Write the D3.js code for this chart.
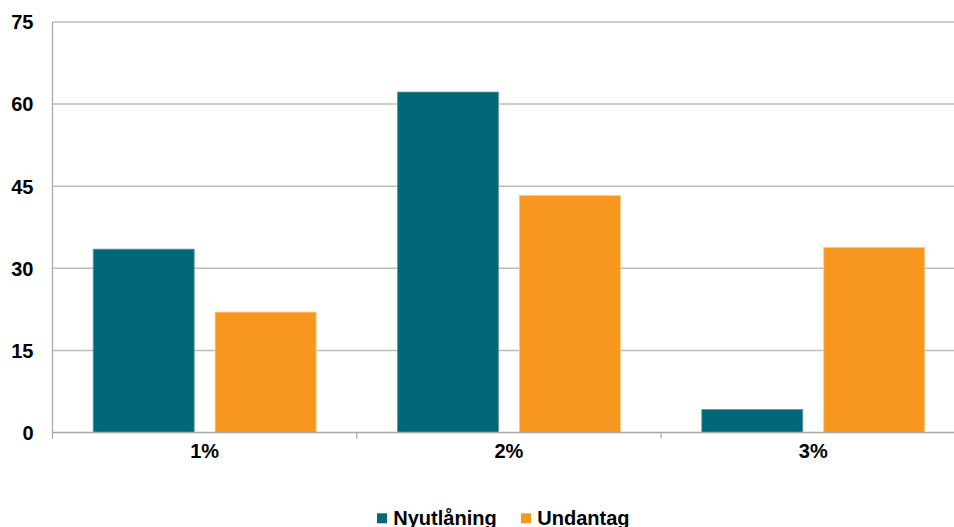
<!DOCTYPE html>
<html>
<head>
<meta charset="utf-8">
<script src="https://cdn.jsdelivr.net/npm/d3@7/dist/d3.min.js"></script>
<style>
  html, body { margin: 0; padding: 0; background: #fff; }
  svg { display: block; }
  text { font-family: "Liberation Sans", Arial, sans-serif; font-weight: bold; fill: #000; }
</style>
</head>
<body>
<svg id="chart" width="954" height="527"></svg>
<script>
// Categories, series and tick values
const categories = ["1%", "2%", "3%"];
const seriesNames = ["Nyutlåning", "Undantag"];
const nyutlaning = [33.5, 62.2, 4.2];
const undantag = [22.0, 43.3, 33.8];
const yTicks = [0, 15, 30, 45, 60, 75];

const colors = ["#006878", "#F7971F"];
const strokes = ["#5a9aa6", "#fbc98a"];

(function () {
  const svg = d3.select("#chart");
  const W = 954, H = 527;
  const plotLeft = 52.5, plotTop = 22, plotBottom = 432.5;
  const step = 304.3;
  const plotRight = plotLeft + step * categories.length;
  const fontSize = "20px";

  const x = d3.scaleBand().domain(categories).range([plotLeft, plotRight]).paddingInner(0).paddingOuter(0);
  const xs = d3.scaleBand().domain(seriesNames).range([40.7, x.bandwidth() - 40.7]).paddingInner(21 / 122.2);
  const y = d3.scaleLinear().domain([0, 75]).range([plotBottom, plotTop]);

  svg.append("defs").append("clipPath").attr("id", "clip")
    .append("rect").attr("x", 0).attr("y", 0).attr("width", W).attr("height", H);

  const g = svg.append("g").attr("clip-path", "url(#clip)");

  // Horizontal gridlines
  g.append("g").selectAll("line")
    .data(yTicks.filter(d => d > 0))
    .join("line")
    .attr("x1", plotLeft).attr("x2", plotRight)
    .attr("y1", d => y(d)).attr("y2", d => y(d))
    .attr("stroke", "#bdbdbd").attr("stroke-width", 1.5);

  // Bars
  const rows = categories.map((c, i) => ({ cat: c, vals: [nyutlaning[i], undantag[i]] }));
  const grp = g.append("g").selectAll("g")
    .data(rows)
    .join("g")
    .attr("transform", d => `translate(${x(d.cat)},0)`);

  grp.selectAll("rect")
    .data(d => d.vals.map((v, j) => ({ name: seriesNames[j], v, j })))
    .join("rect")
    .attr("x", d => xs(d.name))
    .attr("width", xs.bandwidth())
    .attr("y", d => y(d.v))
    .attr("height", d => y(0) - y(d.v))
    .attr("fill", d => colors[d.j])
    .attr("stroke", d => strokes[d.j])
    .attr("stroke-width", 0.8);

  // Y axis
  const yAxis = d3.axisLeft(y).tickValues(yTicks).tickSize(0).tickPadding(19);
  const ya = svg.append("g").attr("transform", `translate(${plotLeft},0)`).call(yAxis);
  ya.select(".domain").remove();
  ya.selectAll("text").style("font-size", fontSize).attr("dy", "0.34em");
  svg.append("line")
    .attr("x1", plotLeft).attr("x2", plotLeft).attr("y1", plotTop).attr("y2", plotBottom + 6)
    .attr("stroke", "#a6a6a6").attr("stroke-width", 1.2);

  // X axis baseline with category ticks between bands
  g.append("line")
    .attr("x1", plotLeft).attr("x2", plotRight).attr("y1", plotBottom).attr("y2", plotBottom)
    .attr("stroke", "#a6a6a6").attr("stroke-width", 1.5);
  g.append("g").selectAll("line")
    .data(categories.slice(1))
    .join("line")
    .attr("x1", d => x(d)).attr("x2", d => x(d))
    .attr("y1", plotBottom).attr("y2", plotBottom + 6)
    .attr("stroke", "#a6a6a6").attr("stroke-width", 1.2);

  const xAxis = d3.axisBottom(x).tickSize(0).tickPadding(11);
  const xa = svg.append("g").attr("transform", `translate(0,${plotBottom})`).call(xAxis);
  xa.select(".domain").remove();
  xa.selectAll("text").style("font-size", fontSize);

  // Legend
  const legendItems = [
    { name: seriesNames[0], color: colors[0], x: 377 },
    { name: seriesNames[1], color: colors[1], x: 521 }
  ];
  const lg = svg.append("g");
  legendItems.forEach(it => {
    lg.append("rect").attr("x", it.x).attr("y", 513.3).attr("width", 10).attr("height", 10).attr("fill", it.color);
    lg.append("text").attr("x", it.x + 16.3).attr("y", 525).style("font-size", fontSize).text(it.name);
  });
})();
</script>
</body>
</html>
